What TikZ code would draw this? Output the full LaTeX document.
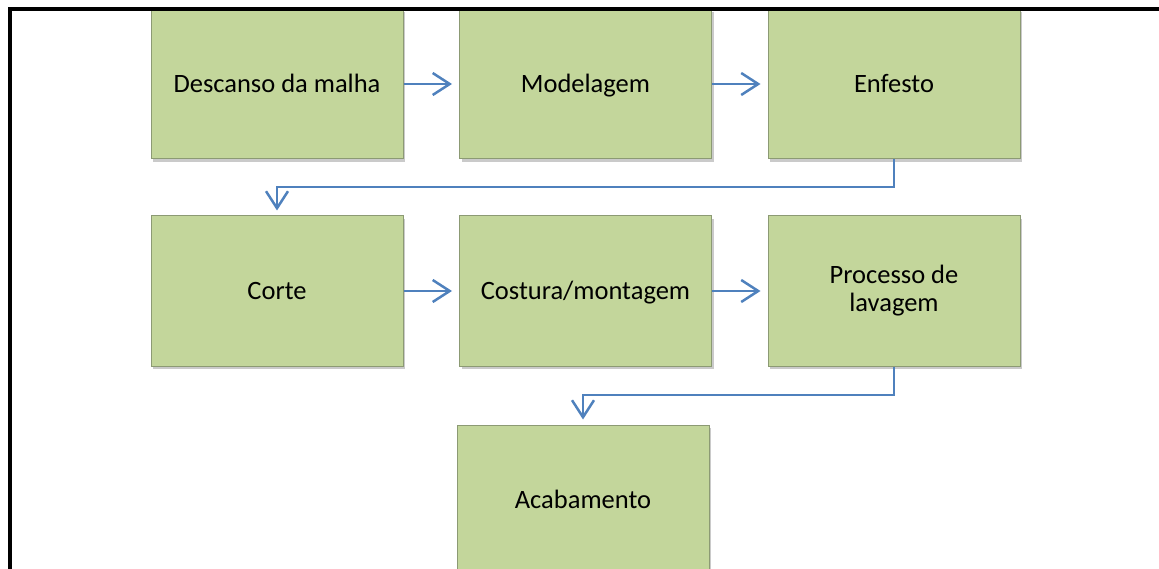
\documentclass[tikz,border=0pt]{standalone}
\usepackage{fontspec}
\setmainfont{Carlito}
\usetikzlibrary{arrows.meta,shadows}
\definecolor{boxfill}{HTML}{C3D69B}
\definecolor{boxline}{HTML}{8C9A74}
\definecolor{arrblue}{HTML}{4F81BD}
\tikzset{
  stepbox/.style={draw=boxline, line width=1pt, fill=boxfill, minimum width=252pt, minimum height=150pt, inner sep=0pt, align=center,
    font=\fontsize{26.5}{28}\selectfont,
    drop shadow={shadow xshift=2pt, shadow yshift=-3pt, opacity=0.35, fill=black!60}},
  oneline/.style={text height=17pt, text depth=0pt},
  arr/.style={draw=arrblue, line width=2.5pt, -{Straight Barb[length=17pt,width=22pt,line width=2.5pt]}}
}
\begin{document}
\begin{tikzpicture}[x=1pt,y=-1pt]
\useasboundingbox (0,0) rectangle (1159,569);
\clip (0,0) rectangle (1159,569);
\node[stepbox, oneline] (b1) at (277,84) {Descanso da malha};
\node[stepbox, oneline] (b2) at (585.5,84) {Modelagem};
\node[stepbox, oneline] (b3) at (894,84) {Enfesto};
\node[stepbox, oneline] (b4) at (277,291) {Corte};
\node[stepbox, oneline] (b5) at (585.5,291) {Costura/montagem};
\node[stepbox] (b6) at (894,291) {Processo de\\lavagem};
\node[stepbox, oneline] (b7) at (583,500) {Acabamento};
\coordinate (t2) at ([xshift=-7pt]b2.west);
\coordinate (t3) at ([xshift=-7pt]b3.west);
\coordinate (t5) at ([xshift=-7pt]b5.west);
\coordinate (t6) at ([xshift=-7pt]b6.west);
\coordinate (t4) at ([yshift=5pt]b4.north);
\coordinate (t7) at ([yshift=5pt]b7.north);
\draw[arr] (b1.east) -- (t2);
\draw[arr] (b2.east) -- (t3);
\draw[arr] (b4.east) -- (t5);
\draw[arr] (b5.east) -- (t6);
\draw[arr] (b3.south) -- (894,187) -- (277,187) -- (t4);
\draw[arr] (b6.south) -- (894,395) -- (583,395) -- (t7);
\draw[line width=4pt] (9.5,9) rectangle (1250,650);
\end{tikzpicture}
\end{document}
